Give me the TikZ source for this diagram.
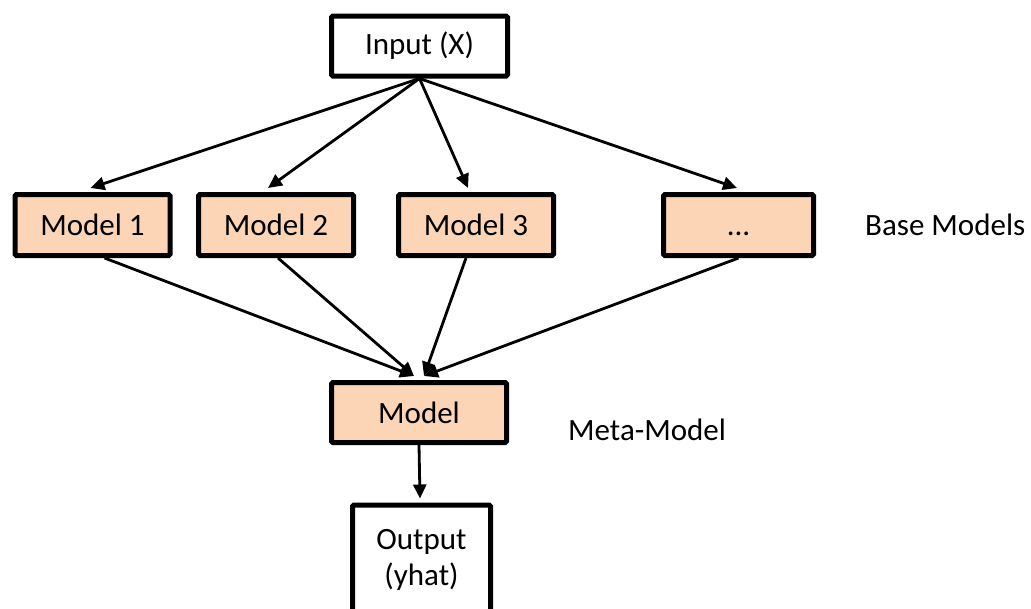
\documentclass[tikz,border=0pt]{standalone}
\usepackage{fontspec}
\setmainfont{Carlito}
\usetikzlibrary{arrows.meta}
\definecolor{peach}{HTML}{FBD5B5}
\begin{document}
\begin{tikzpicture}[x=1pt,y=-1pt,
  box/.style={draw=black, line width=5pt, rounded corners=1.5pt, inner sep=0pt, align=center, font=\fontsize{31}{36}\selectfont},
  modelbox/.style={box, fill=peach, minimum width=155pt, minimum height=61pt},
  plainbox/.style={box, fill=white},
  arr/.style={line width=2.8pt, -{Triangle[length=14pt,width=13pt]}},
  lbl/.style={anchor=west, inner sep=0pt, font=\fontsize{31}{36}\selectfont}]
\clip (0,0) rectangle (1031,608);
\useasboundingbox (0,0) rectangle (1031,608);
\node[plainbox, minimum width=176pt, minimum height=60pt] (in) at (419.5,46) {Input (X)};
\node[modelbox] (m1) at (92.5,225) {Model 1};
\node[modelbox] (m2) at (276,225) {Model 2};
\node[modelbox] (m3) at (476,225) {Model 3};
\node[modelbox, minimum width=150pt] (m4) at (738.5,225) {\vphantom{Model}...};
\node[lbl] (bm) at (865,225) {Base Models};
\node[modelbox, minimum width=175pt, minimum height=60pt] (meta) at (419,412.5) {Model};
\node[lbl] (mm) at (568,430) {Meta-Model};
\node[plainbox, minimum width=138pt, minimum height=110pt] (out) at (421.5,560) {Output\\(yhat)};
\draw[arr] (in.south) -- ([xshift=-2pt,yshift=4pt]m1.north);
\draw[arr] (in.south) -- ([xshift=-8pt,yshift=4pt]m2.north);
\draw[arr] (in.south) -- ([xshift=-8pt,yshift=4pt]m3.north);
\draw[arr] (in.south) -- ([xshift=-1.5pt,yshift=4pt]m4.north);
\draw[arr] ([xshift=12pt]m1.south) -- ([xshift=-5pt,yshift=4pt]meta.north);
\draw[arr] ([xshift=2pt]m2.south) -- ([xshift=-5pt,yshift=4pt]meta.north);
\draw[arr] ([xshift=-10pt]m3.south) -- ([xshift=5pt,yshift=4pt]meta.north);
\draw[arr] (m4.south) -- ([xshift=5pt,yshift=4pt]meta.north);
\draw[arr] (meta.south) -- ([xshift=-1.5pt,yshift=4pt]out.north);
\end{tikzpicture}
\end{document}
